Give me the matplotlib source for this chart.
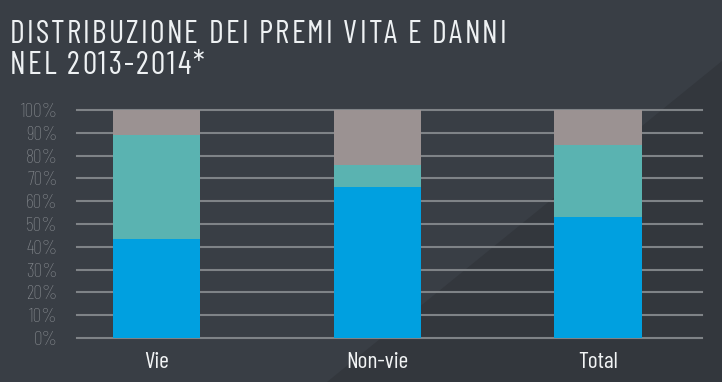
import matplotlib
matplotlib.use("Agg")
import matplotlib.pyplot as plt
from matplotlib.patches import Polygon
from matplotlib.font_manager import findfont, FontProperties
from matplotlib.ft2font import FT2Font

# ---- data ----
categories = ["Vie", "Non-vie", "Total"]
serie_blu = [43.5, 66.4, 53.2]
serie_verde = [45.5, 9.4, 31.3]
serie_grigia = [11.0, 24.2, 15.5]
y_ticks = [0, 10, 20, 30, 40, 50, 60, 70, 80, 90, 100]
y_tick_labels = [f"{v}%" for v in y_ticks]
title_lines = ["DISTRIBUZIONE DEI PREMI VITA E DANNI", "NEL 2013-2014*"]

FAM = ["Barlow Condensed", "Roboto Condensed", "DejaVu Sans"]
plt.rcParams["font.family"] = FAM

W, H = 722, 382
fig = plt.figure(figsize=(W / 100, H / 100), dpi=100)
fig.patch.set_facecolor("#393e45")
bg = Polygon([(327 / W, 0), (1, 0), (1, (H - 61) / H)], closed=True,
             transform=fig.transFigure, facecolor="#33373d",
             edgecolor="none", zorder=-10)
fig.add_artist(bg)

ax = fig.add_axes([77 / W, (H - 338) / H, (702 - 77) / W, (338 - 110) / H])
ax.set_zorder(5)
ax.set_facecolor("none")
x = list(range(len(categories)))
bw = 0.396
c_blu, c_verde, c_grigia = "#00a0e0", "#5ab3b1", "#9b9292"
ax.bar(x, serie_blu, bw, color=c_blu, zorder=3)
ax.bar(x, serie_verde, bw, bottom=serie_blu, color=c_verde, zorder=3)
bottom3 = [a + b for a, b in zip(serie_blu, serie_verde)]
ax.bar(x, serie_grigia, bw, bottom=bottom3, color=c_grigia, zorder=3)

ax.set_xlim(-0.36, 2.47)
ax.set_ylim(0, 100)
ax.set_yticks(y_ticks)
ax.set_yticklabels(y_tick_labels, fontweight="light")
ax.set_xticks(x)
ax.set_xticklabels(categories)
for s in ax.spines.values():
    s.set_visible(False)
ax.yaxis.grid(True, color="#7f8387", linewidth=1.5, zorder=1)
for gl in ax.get_ygridlines():
    gl.set_clip_on(False)
ax.set_axisbelow(True)
ax.tick_params(axis="y", length=0, pad=14, labelsize=14, labelcolor="#868a8f")
ax.tick_params(axis="x", length=0, pad=10, labelsize=17, labelcolor="#f2f4f5")

# ---- letter-spaced title ----
title_size = 23
fp = FontProperties(family=FAM, weight="normal")
ft = FT2Font(findfont(fp))
ft.set_size(title_size, 100)

def adv(ch):
    g = ft.load_char(ord(ch))
    return g.linearHoriAdvance / 65536

line1 = title_lines[0]
natural = sum(adv(c) for c in line1[:-1])
spacing = max(0.0, (490 - natural) / (len(line1) - 1))

for line, base in zip(title_lines, [43, 74]):
    xp = 10
    for ch in line:
        if ch != " ":
            fig.text(xp / W, 1 - base / H, ch, fontsize=title_size, color="#eef1f3",
                     ha="left", va="baseline", fontweight="normal")
        xp += adv(ch) + spacing

fig.savefig("out.png", dpi=100, facecolor=fig.get_facecolor())
